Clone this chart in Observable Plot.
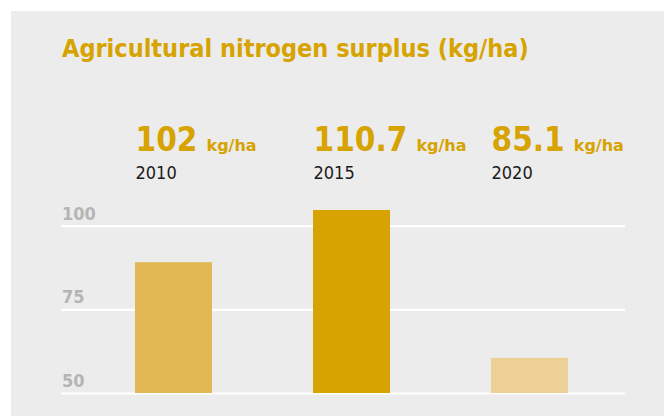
<!DOCTYPE html>
<html>
<head>
<meta charset="utf-8">
<script src="https://cdn.jsdelivr.net/npm/d3@7"></script>
<script src="https://cdn.jsdelivr.net/npm/@observablehq/plot@0.6"></script>
<style>
  html, body { margin: 0; padding: 0; background: #ffffff; }
  #panel { position: absolute; left: 11px; top: 11px; width: 653px; height: 405px; background: #ececec; overflow: hidden; }
  #title { position: absolute; left: 51px; top: 25px; margin: 0; font-family: "DejaVu Sans Condensed", "DejaVu Sans", sans-serif; font-weight: bold; font-size: 25px; color: #d6a300; white-space: nowrap; line-height: 1; }
  #chart { position: absolute; left: 0; top: 0; }
</style>
</head>
<body>
<div id="panel">
  <h2 id="title">Agricultural nitrogen surplus (kg/ha)</h2>
  <div id="chart"></div>
</div>
<script>
const years = ["2010", "2015", "2020"];
const barValues = [89.1, 104.7, 60.5];
const labelValues = ["102", "110.7", "85.1"];
const unitLabel = "kg/ha";
const barColors = ["#e2b855", "#d6a300", "#edd095"];
const yTicks = [50, 75, 100];
const yBase = 50;

const data = years.map((y, i) => ({year: y, value: barValues[i], label: labelValues[i], color: barColors[i]}));

const W = 653, H = 405;
const bandW = 77;
const plot = Plot.plot({
  width: W,
  height: H,
  marginLeft: 50,
  marginRight: 39,
  marginTop: 0,
  marginBottom: 23,
  style: {background: "transparent", overflow: "visible"},
  x: {domain: years, range: [123, 557], paddingInner: 0.5686, paddingOuter: 0, axis: null},
  y: {domain: [50, 100], range: [382, 214.7], axis: null},
  color: {type: "identity"},
  marks: [
    Plot.ruleY(yTicks, {stroke: "#ffffff", strokeWidth: 2.2}),
    Plot.text(yTicks, {y: d => d, text: d => String(d), frameAnchor: "left", textAnchor: "start", lineAnchor: "bottom", dx: 0.5, dy: -6.5, fill: "#b5b5b5", fontSize: 18, fontWeight: "bold", fontFamily: "DejaVu Sans Condensed, DejaVu Sans, sans-serif"}),
    Plot.barY(data, {x: "year", y1: () => yBase, y2: "value", fill: "color"}),
    Plot.text(data, {x: "year", text: "label", frameAnchor: "top", textAnchor: "start", lineAnchor: "bottom", dx: -bandW / 2, dy: 139, fill: "#d6a300", fontSize: 33, fontWeight: "bold", fontFamily: "DejaVu Sans Condensed, DejaVu Sans, sans-serif"}),
    Plot.text(data, {x: "year", text: "year", frameAnchor: "top", textAnchor: "start", lineAnchor: "bottom", dx: -bandW / 2, dy: 167.3, fill: "#1a1a1a", fontSize: 18, fontFamily: "DejaVu Sans Condensed, DejaVu Sans, sans-serif"})
  ]
});
document.getElementById("chart").appendChild(plot);

// append the unit as a smaller tspan after each value label
d3.select(plot).selectAll("text").filter(function() {
  return labelValues.includes(this.textContent);
}).each(function() {
  d3.select(this).append("tspan")
    .attr("dx", 9)
    .attr("font-size", 16)
    .attr("font-family", "DejaVu Sans, sans-serif")
    .text(unitLabel);
});
</script>
</body>
</html>
